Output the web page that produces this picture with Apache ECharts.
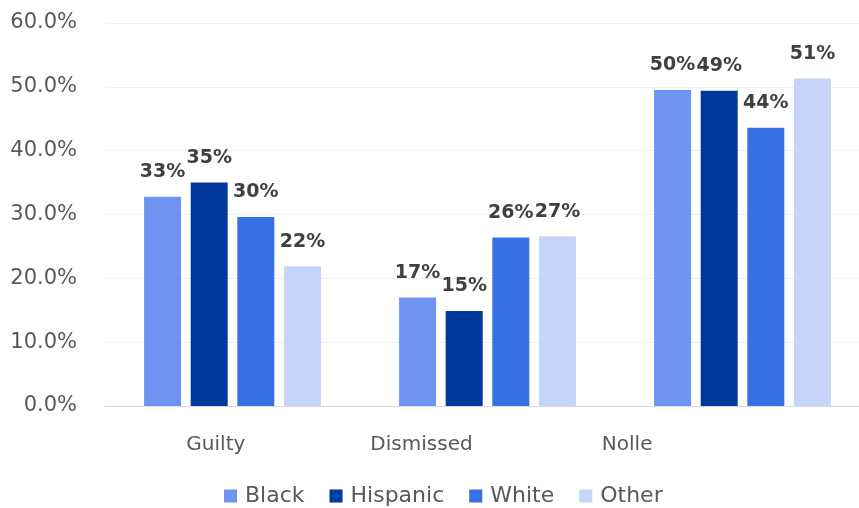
<!DOCTYPE html>
<html>
<head>
<meta charset="utf-8">
<script src="https://cdn.jsdelivr.net/npm/echarts@6/dist/echarts.min.js"></script>
<style>
  html, body { margin: 0; padding: 0; background: #ffffff; }
  #chart { width: 859px; height: 508px; }
</style>
</head>
<body>
<div id="chart"></div>
<script>
// Case outcomes by race (share of cases, %)
const categories = ['Guilty', 'Dismissed', 'Nolle'];
const seriesNames = ['Black', 'Hispanic', 'White', 'Other'];
const black    = [32.8, 17.0, 49.5];
const hispanic = [35.0, 14.9, 49.4];
const white    = [29.6, 26.4, 43.6];
const other    = [21.9, 26.6, 51.3];
const yTicks = { min: 0, max: 60, interval: 10 };

const colors = ['#6f93f0', '#00399b', '#3571e3', '#c6d4fa'];
const FONT = 'DejaVu Sans';
const values = [black, hispanic, white, other];

const chart = echarts.init(document.getElementById('chart'), null, { renderer: 'canvas' });

const series = seriesNames.map((name, i) => ({
  name: name,
  type: 'bar',
  xAxisIndex: 0,
  yAxisIndex: 0,
  data: values[i],
  barWidth: 37,
  barGap: '26%',
  itemStyle: { color: colors[i] },
  label: {
    show: true,
    position: 'top',
    distance: 15,
    formatter: p => Math.round(p.value) + '%',
    fontFamily: FONT,
    fontWeight: 'bold',
    fontSize: 19,
    color: '#404040'
  }
}));

chart.setOption({
  animation: false,
  textStyle: { fontFamily: FONT },
  legend: {
    data: seriesNames,
    left: 224,
    top: 485,
    padding: 0,
    icon: 'rect',
    itemWidth: 13,
    itemHeight: 13,
    itemGap: 25,
    textStyle: { fontFamily: FONT, fontSize: 22, color: '#595959', padding: [0, 0, 0, 3] }
  },
  grid: [
    { left: 105, width: 765, top: 23, bottom: 102, outerBoundsMode: 'none' },
    { left: 113, width: 617, top: 23, bottom: 102, outerBoundsMode: 'none' }
  ],
  xAxis: [
    {
      type: 'category',
      gridIndex: 0,
      data: categories,
      axisLine: { lineStyle: { color: '#d9d9d9', width: 1 } },
      axisTick: { show: false },
      axisLabel: { show: false }
    },
    {
      type: 'category',
      gridIndex: 1,
      data: categories,
      axisLine: { show: false },
      axisTick: { show: false },
      axisLabel: { fontFamily: FONT, fontSize: 20, color: '#595959', margin: 29 }
    }
  ],
  yAxis: [
    {
      type: 'value',
      gridIndex: 0,
      min: yTicks.min,
      max: yTicks.max,
      interval: yTicks.interval,
      axisLine: { show: false },
      axisTick: { show: false },
      splitLine: { lineStyle: { color: '#efefef', width: 1 } },
      axisLabel: {
        formatter: v => v.toFixed(1) + '%',
        fontFamily: FONT,
        fontSize: 21,
        color: '#595959',
        margin: 28
      }
    },
    {
      type: 'value',
      gridIndex: 1,
      min: yTicks.min,
      max: yTicks.max,
      show: false
    }
  ],
  series: series
});
</script>
</body>
</html>
